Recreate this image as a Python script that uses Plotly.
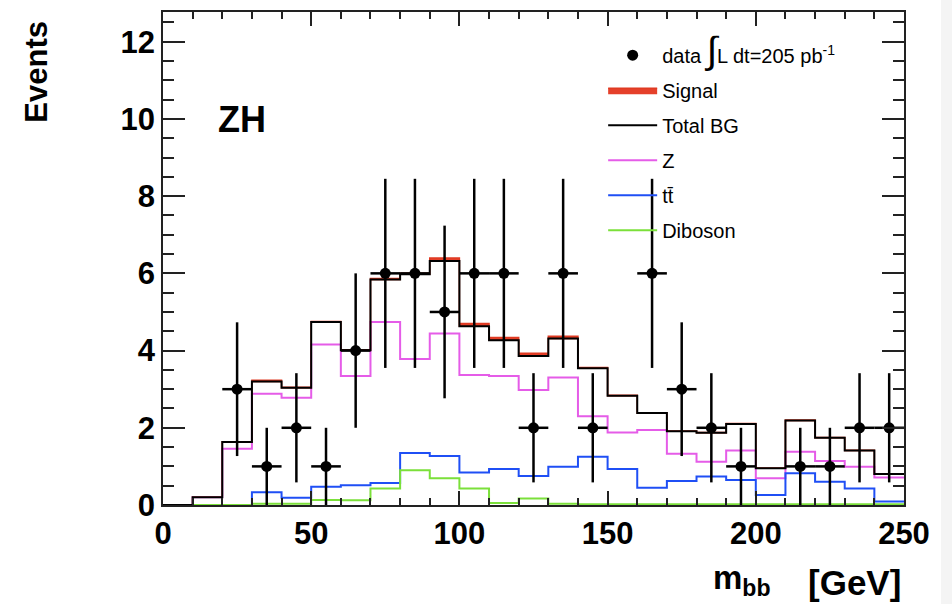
import numpy as np
import plotly.graph_objects as go

# ---- data ----
bin_edges = [0, 10, 20, 30, 40, 50, 60, 70, 80, 90, 100, 110, 120, 130, 140, 150,
             160, 170, 180, 190, 200, 210, 220, 230, 240, 250]

total_bg = [0.0, 0.2, 1.63, 3.2, 3.04, 4.74, 4.01, 5.84, 5.98, 6.32, 4.63, 4.27, 3.86,
            4.31, 3.54, 2.83, 2.38, 1.91, 1.87, 2.10, 0.95, 2.19, 1.74, 1.41, 0.80]
signal = [0.0, 0.0, 0.01, 0.03, 0.01, 0.01, 0.01, 0.03, 0.02, 0.08, 0.07, 0.07, 0.07,
          0.06, 0.02, 0.01, 0.01, 0.01, 0.01, 0.01, 0.01, 0.01, 0.01, 0.01, 0.01]
z_bg = [0.0, 0.2, 1.46, 2.88, 2.78, 4.16, 3.34, 4.74, 3.78, 4.44, 3.37, 3.34, 2.98,
        3.30, 2.30, 1.88, 1.94, 1.33, 1.12, 1.41, 0.69, 1.38, 1.14, 0.99, 0.71]
ttbar = [0.0, 0.0, 0.0, 0.33, 0.19, 0.47, 0.51, 0.57, 1.35, 1.27, 0.84, 0.93, 0.75,
         0.99, 1.25, 0.93, 0.45, 0.62, 0.74, 0.65, 0.26, 0.82, 0.60, 0.43, 0.09]
diboson = [0.0, 0.0, 0.0, 0.03, 0.03, 0.13, 0.12, 0.43, 0.90, 0.69, 0.43, 0.05, 0.17,
           0.03, 0.02, 0.02, 0.02, 0.02, 0.02, 0.02, 0.02, 0.02, 0.02, 0.02, 0.02]

data_x = [25, 35, 45, 55, 65, 75, 85, 95, 105, 115, 125, 135, 145, 165, 175, 185,
          195, 215, 225, 235, 245]
data_y = [3, 1, 2, 1, 4, 6, 6, 5, 6, 6, 2, 6, 2, 6, 3, 2, 1, 1, 1, 2, 2]

x_tick_vals = [0, 50, 100, 150, 200, 250]
y_tick_vals = [0, 2, 4, 6, 8, 10, 12]


def step(vals):
    return list(vals) + [vals[-1]]


sig_top = [b + s for b, s in zip(total_bg, signal)]
data_err = np.sqrt(np.array(data_y, dtype=float))

# closed polygon (top step forward, bottom step backward) for the signal band
poly_x, poly_y = [], []
for i in range(len(total_bg)):
    poly_x += [bin_edges[i], bin_edges[i + 1]]
    poly_y += [sig_top[i], sig_top[i]]
for i in reversed(range(len(total_bg))):
    poly_x += [bin_edges[i + 1], bin_edges[i]]
    poly_y += [total_bg[i], total_bg[i]]

FONT = "Liberation Sans, Arial, sans-serif"

fig = go.Figure()

fig.add_trace(go.Scatter(x=bin_edges, y=step(z_bg), mode="lines", line_shape="hv",
                         line=dict(color="#e55ce8", width=2), name="Z",
                         legendgroup="z", legendrank=4))
fig.add_trace(go.Scatter(x=bin_edges, y=step(ttbar), mode="lines", line_shape="hv",
                         line=dict(color="#1f4ff5", width=2), name="tt\u0304",
                         legendgroup="tt", legendrank=5))
fig.add_trace(go.Scatter(x=bin_edges, y=step(diboson), mode="lines", line_shape="hv",
                         line=dict(color="#7be03a", width=2), name="Diboson",
                         legendgroup="vv", legendrank=6))
fig.add_trace(go.Scatter(x=poly_x, y=poly_y, mode="lines", fill="toself",
                         line=dict(color="#e03a22", width=1.5),
                         fillcolor="#e5402a", name="Signal",
                         legendgroup="sig", legendrank=2))
fig.add_trace(go.Scatter(x=bin_edges, y=step(total_bg), mode="lines", line_shape="hv",
                         line=dict(color="black", width=2), name="Total BG",
                         legendgroup="bg", legendrank=3))
fig.add_trace(go.Scatter(
    x=data_x, y=data_y, mode="markers",
    marker=dict(color="black", size=11),
    error_y=dict(type="data", array=data_err, color="black", thickness=2.5, width=0),
    error_x=dict(type="constant", value=5, color="black", thickness=2.5, width=0),
    name="data <span style='font-size:38px'>∫</span>L dt=205 pb<sup>-1</sup>",
    legendgroup="data", legendrank=1))

axis_font = dict(family=FONT, size=31, color="black", weight="bold")

fig.update_layout(
    width=952, height=604,
    paper_bgcolor="white", plot_bgcolor="white",
    margin=dict(l=163, r=48, t=10, b=99),
    showlegend=True,
    legend=dict(x=0.594, y=0.952, xanchor="left", yanchor="top",
                bgcolor="rgba(0,0,0,0)", font=dict(family=FONT, size=20, color="black"),
                tracegroupgap=6, itemwidth=49),
    xaxis=dict(range=[0, 250], tickvals=x_tick_vals, ticktext=[str(v) for v in x_tick_vals],
               ticks="inside", ticklen=14, tickwidth=1.5, tickcolor="#222",
               minor=dict(dtick=10, ticks="inside", ticklen=7, tickwidth=1.5, tickcolor="#222"),
               showline=True, linecolor="#222", linewidth=1.5, mirror="ticks",
               showgrid=False, zeroline=False, tickfont=axis_font),
    yaxis=dict(range=[0, 12.77], tickvals=y_tick_vals, ticktext=[str(v) for v in y_tick_vals],
               ticks="inside", ticklen=22, tickwidth=1.5, tickcolor="#222",
               minor=dict(dtick=0.5, ticks="inside", ticklen=11, tickwidth=1.5, tickcolor="#222"),
               showline=True, linecolor="#222", linewidth=1.5, mirror="ticks",
               showgrid=False, zeroline=False, tickfont=axis_font),
)

fig.add_annotation(text="ZH", xref="paper", yref="paper", x=0.1066, y=0.782,
                   showarrow=False, xanchor="center", yanchor="middle",
                   font=dict(family=FONT, size=36, color="black", weight="bold"))
fig.add_annotation(text="Events", xref="paper", yref="paper", x=-0.170, y=0.879,
                   textangle=-90, showarrow=False, xanchor="center", yanchor="middle",
                   font=dict(family=FONT, size=31, color="black", weight="bold"))
fig.add_annotation(text="m<sub>bb</sub>", xref="paper", yref="paper", x=0.739, y=-0.152,
                   showarrow=False, xanchor="left", yanchor="middle",
                   font=dict(family=FONT, size=33, color="black", weight="bold"))
fig.add_annotation(text="[GeV]", xref="paper", yref="paper", x=0.9987, y=-0.158,
                   showarrow=False, xanchor="right", yanchor="middle",
                   font=dict(family=FONT, size=35, color="black", weight="bold"))
fig.add_shape(type="rect", xref="paper", yref="paper", x0=1.050, x1=1.08, y0=-0.3, y1=1.03,
              fillcolor="#f4f4f4", line=dict(width=0), layer="below")

fig.write_html("out.html", config={"displayModeBar": False},
               post_script="document.body.style.margin='0px';")
